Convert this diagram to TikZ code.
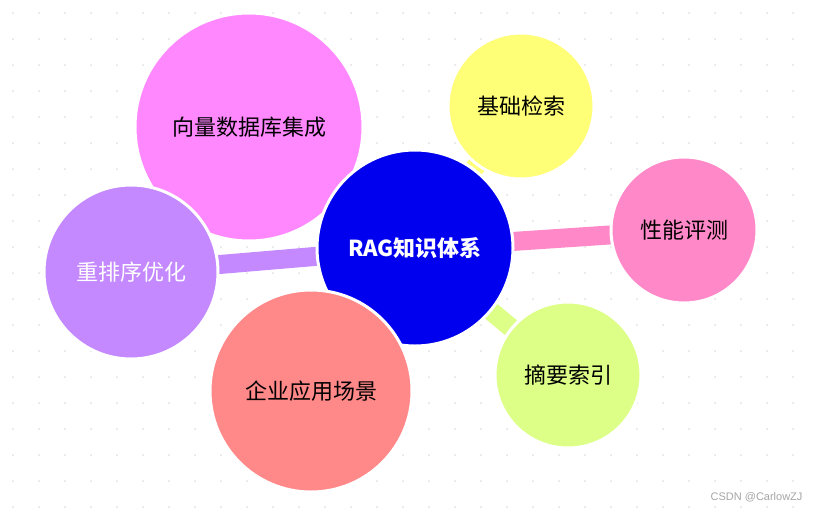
\documentclass[tikz,border=0pt]{standalone}
\usepackage{fontspec}
\newfontfamily\cjk{Noto Sans CJK SC}
\begin{document}
\begin{tikzpicture}[x=1pt,y=-1pt,
  bub/.style={circle,draw=white,line width=3pt,inner sep=0pt,font=\cjk\fontsize{22}{24}\selectfont},
  link/.style={line width=19pt}]
\useasboundingbox[fill=white] (0,0) rectangle (816,512);
\foreach \i in {0,...,31}{\foreach \j in {0,...,19}{\fill[black!12] (13+\i*26,13+\j*26) circle (1pt);}}
\coordinate (cc) at (415,248);
\coordinate (cv) at (249,127);
\coordinate (cb) at (521,106);
\coordinate (cp) at (684,230);
\coordinate (cz) at (568,375);
\coordinate (cq) at (311,391);
\coordinate (cr) at (131,272);
\draw[link,draw={rgb,255:red,255;green,136;blue,255}] (cc)--(cv);
\draw[link,draw={rgb,255:red,255;green,255;blue,119}] (cc)--(cb);
\draw[link,draw={rgb,255:red,255;green,136;blue,200}] (cc)--(cp);
\draw[link,draw={rgb,255:red,221;green,255;blue,136}] (cc)--(cz);
\draw[link,draw={rgb,255:red,255;green,136;blue,136}] (cc)--(cq);
\draw[link,draw={rgb,255:red,196;green,136;blue,255}] (cc)--(cr);
\node[bub,fill={rgb,255:red,255;green,136;blue,255},minimum size=228pt] (v) at (cv) {向量数据库集成};
\node[bub,fill={rgb,255:red,196;green,136;blue,255},minimum size=174pt] (r) at (cr) {\color{white}重排序优化};
\node[bub,fill={rgb,255:red,255;green,255;blue,119},minimum size=146pt] (b) at (cb) {基础检索};
\node[bub,fill={rgb,255:red,255;green,136;blue,200},minimum size=146pt] (p) at (cp) {性能评测};
\node[bub,fill={rgb,255:red,221;green,255;blue,136},minimum size=146pt] (z) at (cz) {摘要索引};
\node[bub,fill={rgb,255:red,0;green,0;blue,238},minimum size=196pt,font=\cjk\bfseries\fontsize{22}{24}\selectfont] (c) at (cc) {\color{white}RAG知识体系};
\node[bub,fill={rgb,255:red,255;green,136;blue,136},minimum size=202pt] (q) at (cq) {企业应用场景};
\node[anchor=east,text=black!35,font=\fontspec{Liberation Sans}\fontsize{11}{12}\selectfont] (w) at (806,497) {CSDN @CarlowZJ};
\end{tikzpicture}
\end{document}
